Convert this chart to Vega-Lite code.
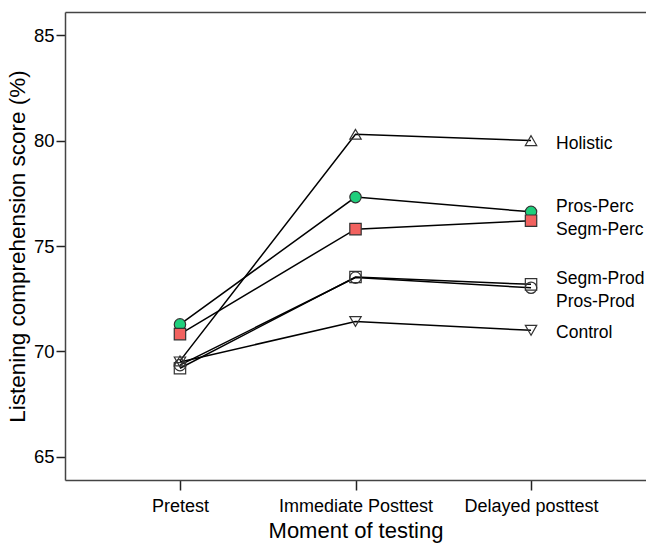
{
  "$schema": "https://vega.github.io/schema/vega-lite/v6.json",
  "width": 581,
  "height": 468,
  "autosize": {"type": "none"},
  "padding": {"left": 65, "top": 12, "right": 0, "bottom": 63},
  "config": {
    "view": {"stroke": null},
    "font": "Liberation Sans",
    "axis": {
      "grid": false,
      "domainColor": "#444",
      "domainWidth": 1.5,
      "tickColor": "#222",
      "tickWidth": 1.5,
      "labelColor": "#000",
      "titleColor": "#000",
      "labelFont": "Liberation Sans",
      "titleFont": "Liberation Sans",
      "labelFontWeight": "normal",
      "titleFontWeight": "normal"
    }
  },
  "data": {
    "values": [
      {"group": "Holistic", "moment": "Pretest", "score": 69.55},
      {"group": "Holistic", "moment": "Immediate Posttest", "score": 80.3},
      {"group": "Holistic", "moment": "Delayed posttest", "score": 80.0},
      {"group": "Pros-Perc", "moment": "Pretest", "score": 71.28},
      {"group": "Pros-Perc", "moment": "Immediate Posttest", "score": 77.32},
      {"group": "Pros-Perc", "moment": "Delayed posttest", "score": 76.62},
      {"group": "Segm-Perc", "moment": "Pretest", "score": 70.82},
      {"group": "Segm-Perc", "moment": "Immediate Posttest", "score": 75.8},
      {"group": "Segm-Perc", "moment": "Delayed posttest", "score": 76.2},
      {"group": "Segm-Prod", "moment": "Pretest", "score": 69.2},
      {"group": "Segm-Prod", "moment": "Immediate Posttest", "score": 73.53},
      {"group": "Segm-Prod", "moment": "Delayed posttest", "score": 73.18},
      {"group": "Pros-Prod", "moment": "Pretest", "score": 69.35},
      {"group": "Pros-Prod", "moment": "Immediate Posttest", "score": 73.5},
      {"group": "Pros-Prod", "moment": "Delayed posttest", "score": 73.02},
      {"group": "Control", "moment": "Pretest", "score": 69.5},
      {"group": "Control", "moment": "Immediate Posttest", "score": 71.42},
      {"group": "Control", "moment": "Delayed posttest", "score": 71.0}
    ]
  },
  "encoding": {
    "y": {
      "field": "score",
      "type": "quantitative",
      "scale": {"domain": [63.9, 86.1], "nice": false, "zero": false},
      "axis": {
        "title": "Listening comprehension score (%)",
        "values": [65, 70, 75, 80, 85],
        "labelFontSize": 18.5,
        "titleFontSize": 22.5,
        "tickSize": 9,
        "labelPadding": 2,
        "titlePadding": 4
      }
    }
  },
  "layer": [
    {
      "mark": {"type": "line", "color": "#000", "strokeWidth": 1.5},
      "encoding": {
        "x": {
          "field": "moment",
          "type": "ordinal",
          "sort": ["Pretest", "Immediate Posttest", "Delayed posttest"],
          "scale": {"type": "point", "padding": 0.655},
          "axis": {
            "orient": "bottom",
            "title": "Moment of testing",
            "labelAngle": 0,
            "labelFontSize": 18,
            "titleFontSize": 22,
            "tickSize": 10,
            "labelPadding": 7,
            "titlePadding": 5
          }
        },
        "detail": {"field": "group"}
      }
    },
    {
      "mark": {"type": "point", "filled": false, "stroke": "#333", "strokeWidth": 1.2, "size": 130, "opacity": 1},
      "encoding": {
        "x": {
          "field": "moment",
          "type": "ordinal",
          "sort": ["Pretest", "Immediate Posttest", "Delayed posttest"],
          "axis": {"orient": "top", "labels": false, "ticks": false, "title": null, "domain": true}
        },
        "shape": {
          "field": "group",
          "type": "nominal",
          "legend": null,
          "scale": {
            "domain": ["Holistic", "Pros-Perc", "Segm-Perc", "Segm-Prod", "Pros-Prod", "Control"],
            "range": ["triangle-up", "circle", "square", "square", "circle", "triangle-down"]
          }
        },
        "fill": {
          "field": "group",
          "type": "nominal",
          "legend": null,
          "scale": {
            "domain": ["Holistic", "Pros-Perc", "Segm-Perc", "Segm-Prod", "Pros-Prod", "Control"],
            "range": ["transparent", "#1fcf7c", "#f2625f", "transparent", "transparent", "transparent"]
          }
        }
      }
    },
    {
      "transform": [{"filter": "datum.moment === 'Delayed posttest' && (datum.group === 'Holistic' || datum.group === 'Control')"}],
      "mark": {"type": "text", "align": "left", "baseline": "middle", "dx": 25, "dy": 3, "fontSize": 17.5, "color": "#000"},
      "encoding": {
        "x": {"field": "moment", "type": "ordinal", "sort": ["Pretest", "Immediate Posttest", "Delayed posttest"], "axis": null},
        "text": {"field": "group"}
      }
    },
    {
      "transform": [{"filter": "datum.moment === 'Delayed posttest' && (datum.group === 'Pros-Perc' || datum.group === 'Segm-Prod')"}],
      "mark": {"type": "text", "align": "left", "baseline": "middle", "dx": 25, "dy": -5, "fontSize": 17.5, "color": "#000"},
      "encoding": {
        "x": {"field": "moment", "type": "ordinal", "sort": ["Pretest", "Immediate Posttest", "Delayed posttest"], "axis": null},
        "text": {"field": "group"}
      }
    },
    {
      "transform": [{"filter": "datum.moment === 'Delayed posttest' && datum.group === 'Segm-Perc'"}],
      "mark": {"type": "text", "align": "left", "baseline": "middle", "dx": 25, "dy": 9, "fontSize": 17.5, "color": "#000"},
      "encoding": {
        "x": {"field": "moment", "type": "ordinal", "sort": ["Pretest", "Immediate Posttest", "Delayed posttest"], "axis": null},
        "text": {"field": "group"}
      }
    },
    {
      "transform": [{"filter": "datum.moment === 'Delayed posttest' && datum.group === 'Pros-Prod'"}],
      "mark": {"type": "text", "align": "left", "baseline": "middle", "dx": 25, "dy": 14, "fontSize": 17.5, "color": "#000"},
      "encoding": {
        "x": {"field": "moment", "type": "ordinal", "sort": ["Pretest", "Immediate Posttest", "Delayed posttest"], "axis": null},
        "text": {"field": "group"}
      }
    }
  ],
  "resolve": {"axis": {"x": "independent"}}
}
